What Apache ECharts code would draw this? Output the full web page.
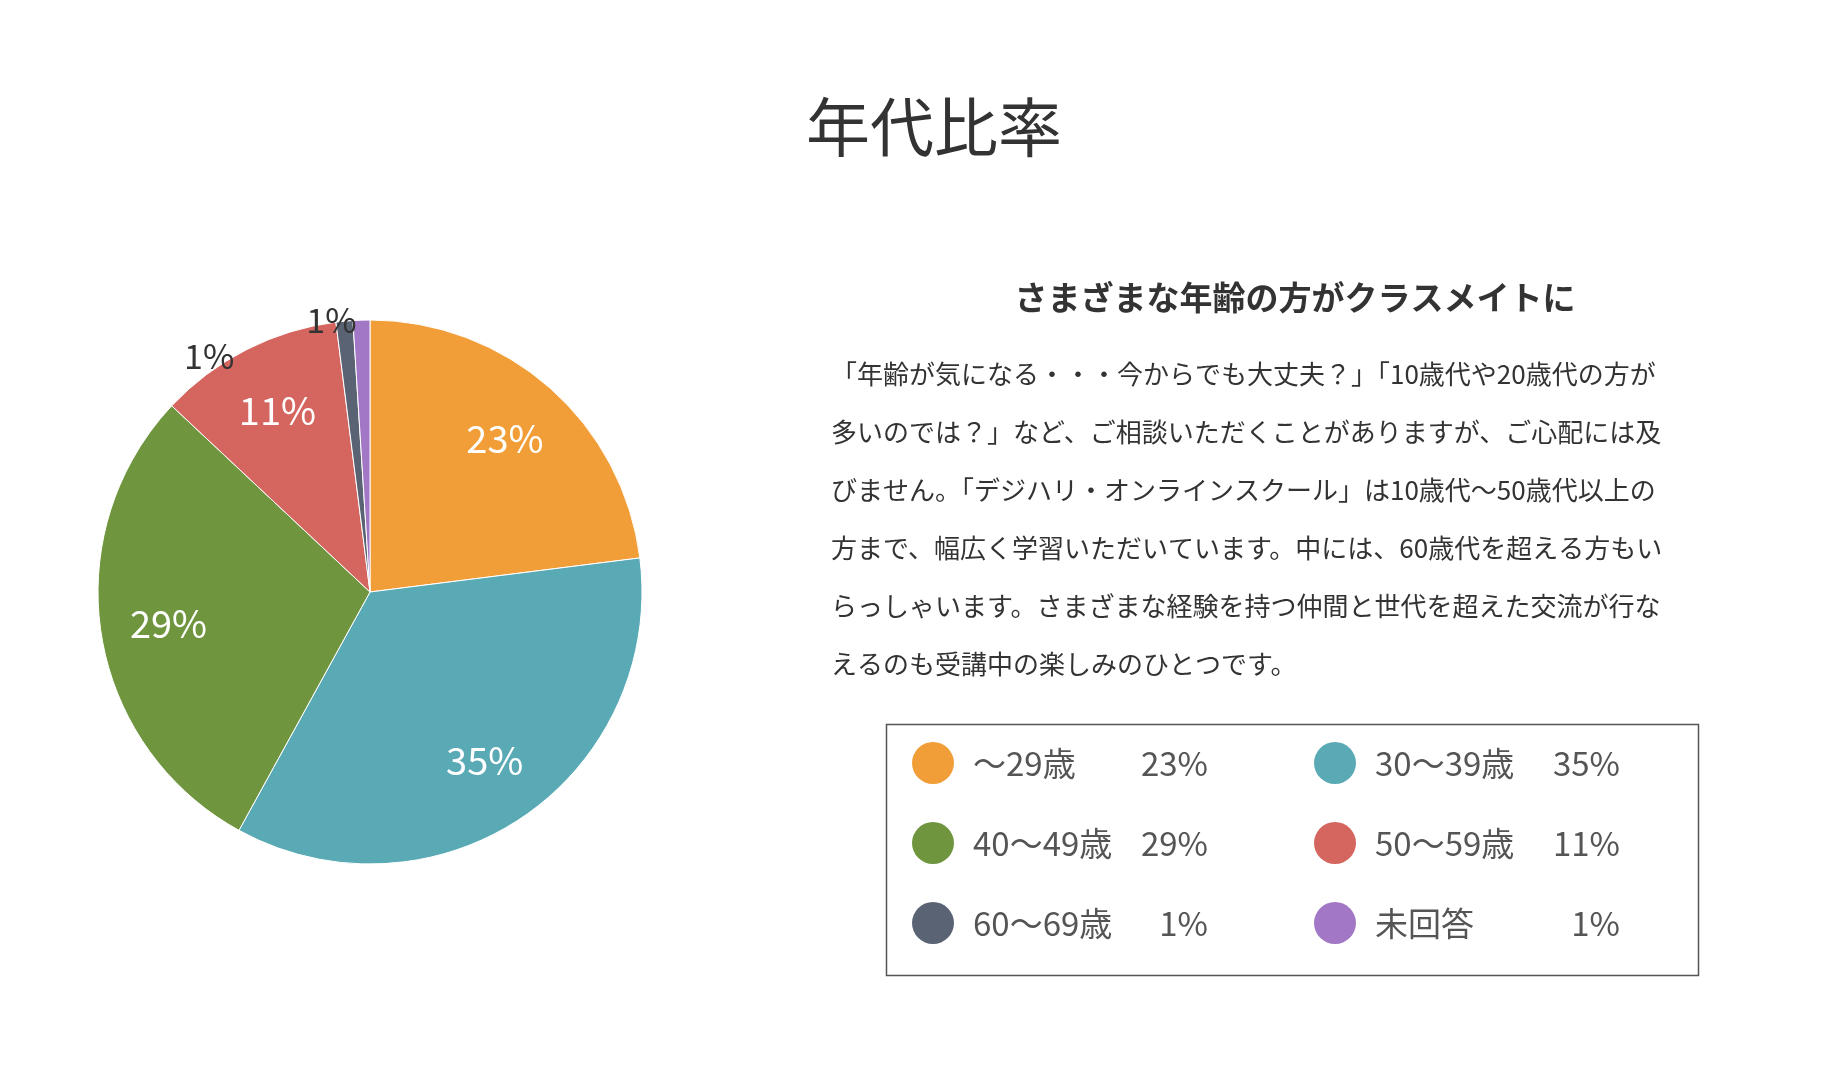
<!DOCTYPE html>
<html>
<head>
<meta charset="UTF-8">
<title>年代比率</title>
<style>html,body{margin:0;background:#fff;}</style>
</head>
<body>
<div id="main" style="width:1846px;height:1069px;"></div>
<script src="https://cdn.jsdelivr.net/npm/echarts@6/dist/echarts.min.js"></script>
<script>
var categories = ['〜29歳', '30〜39歳', '40〜49歳', '50〜59歳', '60〜69歳', '未回答'];
var values = [23, 35, 29, 11, 1, 1];
var colors = ['#F29E38', '#5AAAB6', '#6F963F', '#D5655F', '#5A6374', '#A277C6'];
var paragraph = [
  '「年齢が気になる・・・今からでも大丈夫？」「10歳代や20歳代の方が',
  '多いのでは？」など、ご相談いただくことがありますが、ご心配には及',
  'びません。「デジハリ・オンラインスクール」は10歳代〜50歳代以上の',
  '方まで、幅広く学習いただいています。中には、60歳代を超える方もい',
  'らっしゃいます。さまざまな経験を持つ仲間と世代を超えた交流が行な',
  'えるのも受講中の楽しみのひとつです。'
];
var font = '"Noto Sans CJK JP", "Noto Sans", sans-serif';

var chart = echarts.init(document.getElementById('main'));

// pie slices
var pieData = categories.map(function (c, i) {
  var d = { name: c, value: values[i], itemStyle: { color: colors[i] } };
  if (values[i] < 5) {
    d.label = { show: true, position: 'outside', color: '#333', fontSize: 34, distance: 2 };
  }
  return d;
});
// label-only overlay so inside labels sit further out
var labelData = categories.map(function (c, i) {
  return { name: c, value: values[i], label: { show: values[i] >= 5 } };
});

// legend drawn as graphics, two columns
var legendGraphics = [{
  type: 'rect', left: 884, top: 722,
  shape: { width: 812, height: 251 },
  style: { fill: 'none', stroke: '#555', lineWidth: 1.5 }
}];
categories.forEach(function (c, i) {
  var col = i % 2, row = Math.floor(i / 2);
  var x = col === 0 ? 933 : 1335;
  var y = 763 + row * 80;
  legendGraphics.push({
    type: 'circle', shape: { cx: x, cy: y, r: 21 }, style: { fill: colors[i] }
  });
  legendGraphics.push({
    type: 'text', x: x + 40, y: y,
    style: { text: c, fill: '#555', font: '33px ' + font, textVerticalAlign: 'middle' }
  });
  legendGraphics.push({
    type: 'text', x: x + (col === 0 ? 275 : 285), y: y,
    style: { text: values[i] + '%', fill: '#555', font: '33px ' + font, textAlign: 'right', textVerticalAlign: 'middle' }
  });
});

chart.setOption({
  animation: false,
  title: [{
    text: '年代比率', left: 929, top: 90, textAlign: 'center',
    textStyle: { fontSize: 64, fontWeight: 'normal', color: '#333', fontFamily: font }
  }, {
    text: 'さまざまな年齢の方がクラスメイトに', left: 1290, top: 276, textAlign: 'center',
    textStyle: { fontSize: 33, fontWeight: 'bold', color: '#333', fontFamily: font }
  }, {
    text: paragraph.join('\n'), left: 826, top: 340,
    textStyle: { fontSize: 26, fontWeight: 'normal', color: '#333', fontFamily: font, lineHeight: 58 }
  }],
  graphic: legendGraphics,
  series: [{
    type: 'pie', center: [370, 592], radius: [0, 272], startAngle: 90,
    clockwise: true, minAngle: 0,
    label: { show: false, formatter: '{c}%', fontFamily: font },
    labelLine: { show: false, length: 0, length2: 0 },
    itemStyle: { borderColor: '#fff', borderWidth: 1 },
    data: pieData
  }, {
    type: 'pie', center: [370, 592], radius: [130, 272], startAngle: 90,
    silent: true,
    itemStyle: { color: 'rgba(0,0,0,0)' },
    label: { position: 'inside', formatter: '{c}%', color: '#fff', fontSize: 38, fontFamily: font },
    labelLine: { show: false },
    data: labelData
  }]
});
</script>
</body>
</html>
